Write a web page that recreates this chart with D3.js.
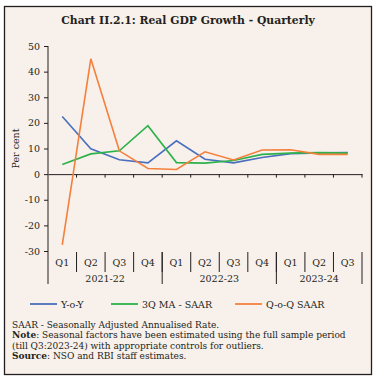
<!DOCTYPE html>
<html lang="en">
<head>
    <meta charset="UTF-8">
    <title>Chart II.2.1: Real GDP Growth - Quarterly</title>
    <script src="https://d3js.org/d3.v7.min.js"></script>
    <style>
        body { margin: 0; background: #fff; }
        svg text { font-family: "DejaVu Serif", serif; fill: #231f20; }
    </style>
</head>
<body>
    <div id="chart"></div>
    <script>
        // data
        var quarters = ["Q1", "Q2", "Q3", "Q4", "Q1", "Q2", "Q3", "Q4", "Q1", "Q2", "Q3"];
        var years = ["2021-22", "2022-23", "2023-24"];
        var quartersPerYear = [4, 4, 3];
        var yoy = [22.5, 9.9, 5.6, 4.4, 13.0, 5.8, 4.4, 6.5, 8.0, 8.3, 8.4];
        var maSaar = [3.8, 7.9, 9.1, 18.9, 4.5, 4.3, 5.3, 7.7, 8.2, 8.4, 8.2];
        var qoqSaar = [-27.6, 45.0, 9.1, 2.2, 1.8, 8.7, 5.5, 9.4, 9.5, 7.7, 7.7];
        var yTicks = [-30, -20, -10, 0, 10, 20, 30, 40, 50];

        var series = [
            { name: "Y-o-Y", values: yoy, color: "#4a6fbe" },
            { name: "3Q MA - SAAR", values: maSaar, color: "#2db24a" },
            { name: "Q-o-Q SAAR", values: qoqSaar, color: "#f4803c" }
        ];

        var w = 377, h = 379;
        var ink = "#231f20";

        var svg = d3.select("#chart").append("svg")
            .attr("width", w)
            .attr("height", h);

        // panel
        svg.append("rect")
            .attr("x", 4.5).attr("y", 6.5)
            .attr("width", 367).attr("height", 368)
            .attr("fill", "#f8f0ea")
            .attr("stroke", ink)
            .attr("stroke-width", 1.3);

        svg.append("text")
            .attr("x", 188).attr("y", 24)
            .attr("text-anchor", "middle")
            .attr("font-size", "10.8px")
            .attr("font-weight", "bold")
            .text("Chart II.2.1: Real GDP Growth - Quarterly");

        var xScale = d3.scaleBand()
            .domain(d3.range(quarters.length))
            .range([48, 362]);

        var yScale = d3.scaleLinear()
            .domain([-30, 50])
            .range([251, 46]);

        // y axis
        var yAxis = svg.append("g")
            .attr("transform", "translate(48,0)")
            .call(d3.axisLeft(yScale).tickValues(yTicks).tickSize(4).tickSizeOuter(0)
                .tickFormat(function(d) { return String(d); }));
        yAxis.select(".domain").remove();
        yAxis.selectAll("line").attr("stroke", ink);
        yAxis.selectAll("text")
            .attr("font-size", "9.5px")
            .attr("font-family", "DejaVu Serif, serif")
            .attr("fill", ink)
            .attr("x", -8);
        svg.append("line")
            .attr("x1", 48).attr("x2", 48)
            .attr("y1", yScale(50)).attr("y2", 284)
            .attr("stroke", ink);

        svg.append("text")
            .attr("transform", "translate(19," + yScale(10) + ") rotate(-90)")
            .attr("text-anchor", "middle")
            .attr("font-size", "9.5px")
            .text("Per cent");

        // zero line with ticks at band boundaries
        var xAxis = svg.append("g")
            .attr("transform", "translate(0," + yScale(0) + ")")
            .call(d3.axisBottom(xScale).tickSize(0).tickFormat(""));
        xAxis.select(".domain").attr("stroke", ink);
        var bounds = d3.range(1, quarters.length + 1).map(function(i) {
            return xScale.range()[0] + i * xScale.step();
        });
        xAxis.selectAll(".bt")
            .data(bounds)
            .enter()
            .append("line")
            .attr("x1", function(d) { return d; })
            .attr("x2", function(d) { return d; })
            .attr("y1", 0).attr("y2", 3.5)
            .attr("stroke", ink);

        // category labels
        svg.selectAll(".ql")
            .data(quarters)
            .enter()
            .append("text")
            .attr("x", function(d, i) { return xScale(i) + xScale.bandwidth() / 2; })
            .attr("y", 265.5)
            .attr("text-anchor", "middle")
            .attr("font-size", "9.5px")
            .text(function(d) { return d; });

        svg.selectAll(".qs")
            .data(bounds.slice(0, -1))
            .enter()
            .append("line")
            .attr("x1", function(d) { return d; })
            .attr("x2", function(d) { return d; })
            .attr("y1", 252).attr("y2", 272)
            .attr("stroke", ink);

        var yearStart = [0];
        quartersPerYear.forEach(function(n, i) { yearStart.push(yearStart[i] + n); });

        svg.selectAll(".ys")
            .data(yearStart.slice(1))
            .enter()
            .append("line")
            .attr("x1", function(d) { return xScale.range()[0] + d * xScale.step(); })
            .attr("x2", function(d) { return xScale.range()[0] + d * xScale.step(); })
            .attr("y1", 252).attr("y2", 284)
            .attr("stroke", ink);

        svg.selectAll(".yl")
            .data(years)
            .enter()
            .append("text")
            .attr("x", function(d, i) {
                return xScale.range()[0] + (yearStart[i] + quartersPerYear[i] / 2) * xScale.step();
            })
            .attr("y", 281.5)
            .attr("text-anchor", "middle")
            .attr("font-size", "9.5px")
            .text(function(d) { return d; });

        // lines
        var line = d3.line()
            .x(function(d, i) { return xScale(i) + xScale.bandwidth() / 2; })
            .y(function(d) { return yScale(d); });

        svg.selectAll(".series")
            .data(series)
            .enter()
            .append("path")
            .attr("d", function(d) { return line(d.values); })
            .attr("fill", "none")
            .attr("stroke", function(d) { return d.color; })
            .attr("stroke-width", 1.6);

        // legend
        var legendX = [30, 111, 235];
        var lg = svg.selectAll(".lg")
            .data(series)
            .enter()
            .append("g")
            .attr("transform", function(d, i) { return "translate(" + legendX[i] + ",304)"; });
        lg.append("line")
            .attr("x1", 0).attr("x2", 27)
            .attr("stroke", function(d) { return d.color; })
            .attr("stroke-width", 1.8);
        lg.append("text")
            .attr("x", 31).attr("y", 3.5)
            .attr("font-size", "9.5px")
            .text(function(d) { return d.name; });

        // notes
        var notes = svg.append("text")
            .attr("font-size", "9px");
        notes.append("tspan").attr("x", 12).attr("y", 327.5)
            .text("SAAR - Seasonally Adjusted Annualised Rate.");
        var n2 = notes.append("tspan").attr("x", 12).attr("y", 338);
        n2.append("tspan").attr("font-weight", "bold").text("Note");
        n2.append("tspan").text(": Seasonal factors have been estimated using the full sample period");
        notes.append("tspan").attr("x", 12).attr("y", 348.5)
            .text("(till Q3:2023-24) with appropriate controls for outliers.");
        var n4 = notes.append("tspan").attr("x", 12).attr("y", 359);
        n4.append("tspan").attr("font-weight", "bold").text("Source");
        n4.append("tspan").text(": NSO and RBI staff estimates.");
    </script>
</body>
</html>
